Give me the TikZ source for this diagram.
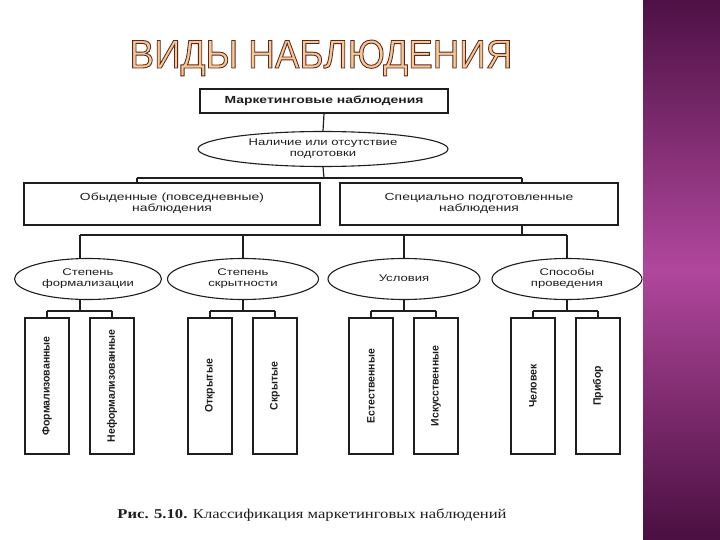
\documentclass[tikz,border=0pt]{standalone}
\usepackage{fontspec}
\setmainfont{Liberation Sans}
\newfontfamily\capfont{Liberation Serif}
\usetikzlibrary{shapes.geometric}
\definecolor{ink}{HTML}{1E1E1E}
\definecolor{titlefill}{HTML}{F7C893}
\definecolor{titleline}{HTML}{5A2A22}
\definecolor{bandtop}{HTML}{4E1145}
\definecolor{bandmid}{HTML}{B0479C}
\definecolor{bandbot}{HTML}{4A0F40}
\newcommand{\wtxt}[1]{\scalebox{1.35}[1]{\begin{tabular}{@{}c@{}}#1\end{tabular}}}
\newcommand{\vtxt}[1]{\scalebox{0.97}[1]{\bfseries #1}}
\newcommand{\titletext}{\fontsize{40}{40}\selectfont\scalebox{0.92}[1]{%
  \special{pdf:code q 2 Tr 0.9 w 0.353 0.165 0.133 RG}ВИДЫ НАБЛЮДЕНИЯ\special{pdf:code Q}}}
\tikzset{
  boxA/.style={draw=ink, line width=1.3pt, rectangle, inner sep=0pt, font=\fontsize{10.3}{11.5}\selectfont, text=ink},
  oval/.style={draw=ink, line width=1.1pt, ellipse, inner sep=0pt, font=\fontsize{9.7}{11}\selectfont, text=ink},
  tallbox/.style={draw=ink, line width=1.3pt, rectangle, inner sep=0pt, minimum width=136pt, minimum height=44pt, rotate=90, font=\fontsize{10.8}{12}\selectfont, text=ink},
  conn/.style={draw=ink, line width=1.2pt},
}
\renewcommand{\arraystretch}{0.95}
\begin{document}
\begin{tikzpicture}[x=1pt,y=-1pt]
\fill[white] (0,0) rectangle (720,540);
\useasboundingbox (0,0) rectangle (720,540);
% purple band
\shade[top color=bandtop, bottom color=bandbot, middle color=bandmid] (643,0) rectangle (720,540);
% title
\node[text=titlefill] (title) at (321,58) {\titletext};
% top level
\node[boxA, minimum width=248pt, minimum height=24pt] (mk) at (324,101) {\wtxt{\bfseries Маркетинговые наблюдения}};
\node[oval, minimum width=250pt, minimum height=35pt] (prep) at (323,149) {\wtxt{Наличие или отсутствие\\подготовки}};
\node[boxA, minimum width=296pt, minimum height=42pt] (ob) at (172,204) {\wtxt{Обыденные (повседневные)\\наблюдения}};
\node[boxA, minimum width=278pt, minimum height=42pt] (sp) at (479,204) {\wtxt{Специально подготовленные\\наблюдения}};
% ellipses
\node[oval, minimum width=147pt, minimum height=41pt] (e1) at (88,279) {\wtxt{Степень\\формализации}};
\node[oval, minimum width=151pt, minimum height=41pt] (e2) at (243,279) {\wtxt{Степень\\скрытности}};
\node[oval, minimum width=152pt, minimum height=41pt] (e3) at (404,279) {\wtxt{Условия}};
\node[oval, minimum width=150pt, minimum height=41pt] (e4) at (567,279) {\wtxt{Способы\\проведения}};
% tall boxes
\node[tallbox] (b1) at (47,386) {\vtxt{Формализованные}};
\node[tallbox] (b2) at (112,386) {\vtxt{Неформализованные}};
\node[tallbox] (b3) at (210,386) {\vtxt{Открытые}};
\node[tallbox] (b4) at (275,386) {\vtxt{Скрытые}};
\node[tallbox] (b5) at (371,386) {\vtxt{Естественные}};
\node[tallbox] (b6) at (436,386) {\vtxt{Искусственные}};
\node[tallbox] (b7) at (533,386) {\vtxt{Человек}};
\node[tallbox] (b8) at (598,386) {\vtxt{Прибор}};
% connectors level 1
\coordinate (j1) at (324,178);
\coordinate (d1) at (137,178);
\coordinate (d2) at (522,178);
\draw[conn] (mk.south) -- (prep.north);
\draw[conn] (prep.south) -- (j1);
\draw[conn] (d1) -- (d2);
\draw[conn] (d1) -- (d1 |- ob.north);
\draw[conn] (d2) -- (d2 |- sp.north);
% connectors level 2
\coordinate (j2) at (522,235);
\coordinate (f1) at (80,235);
\coordinate (f2) at (243,235);
\coordinate (f3) at (404,235);
\coordinate (f4) at (567,235);
\draw[conn] (j2 |- sp.south) -- (j2);
\draw[conn] (f1) -- (f4);
\draw[conn] (f1) -- (f1 |- e1.north);
\draw[conn] (f2) -- (e2.north);
\draw[conn] (f3) -- (e3.north);
\draw[conn] (f4) -- (e4.north);
% connectors level 3
\coordinate (g1) at (80,311);
\coordinate (g2) at (243,311);
\coordinate (g3) at (404,311);
\coordinate (g4) at (567,311);
\draw[conn] (g1 |- e1.south) -- (g1);
\draw[conn] (e2.south) -- (g2);
\draw[conn] (e3.south) -- (g3);
\draw[conn] (e4.south) -- (g4);
\draw[conn] (b1.east |- g1) -- (b2.east |- g1);
\draw[conn] (b3.east |- g2) -- (b4.east |- g2);
\draw[conn] (b5.east |- g3) -- (b6.east |- g3);
\draw[conn] (b7.east |- g4) -- (b8.east |- g4);
\draw[conn] (b1.east |- g1) -- (b1.east);
\draw[conn] (b2.east |- g1) -- (b2.east);
\draw[conn] (b3.east |- g2) -- (b3.east);
\draw[conn] (b4.east |- g2) -- (b4.east);
\draw[conn] (b5.east |- g3) -- (b5.east);
\draw[conn] (b6.east |- g3) -- (b6.east);
\draw[conn] (b7.east |- g4) -- (b7.east);
\draw[conn] (b8.east |- g4) -- (b8.east);
% caption
\node[font=\capfont\fontsize{13.5}{15}\selectfont, text=ink] (cap) at (312,515) {\scalebox{1.23}[1]{\textbf{Рис. 5.10.} Классификация маркетинговых наблюдений}};
\end{tikzpicture}
\end{document}
